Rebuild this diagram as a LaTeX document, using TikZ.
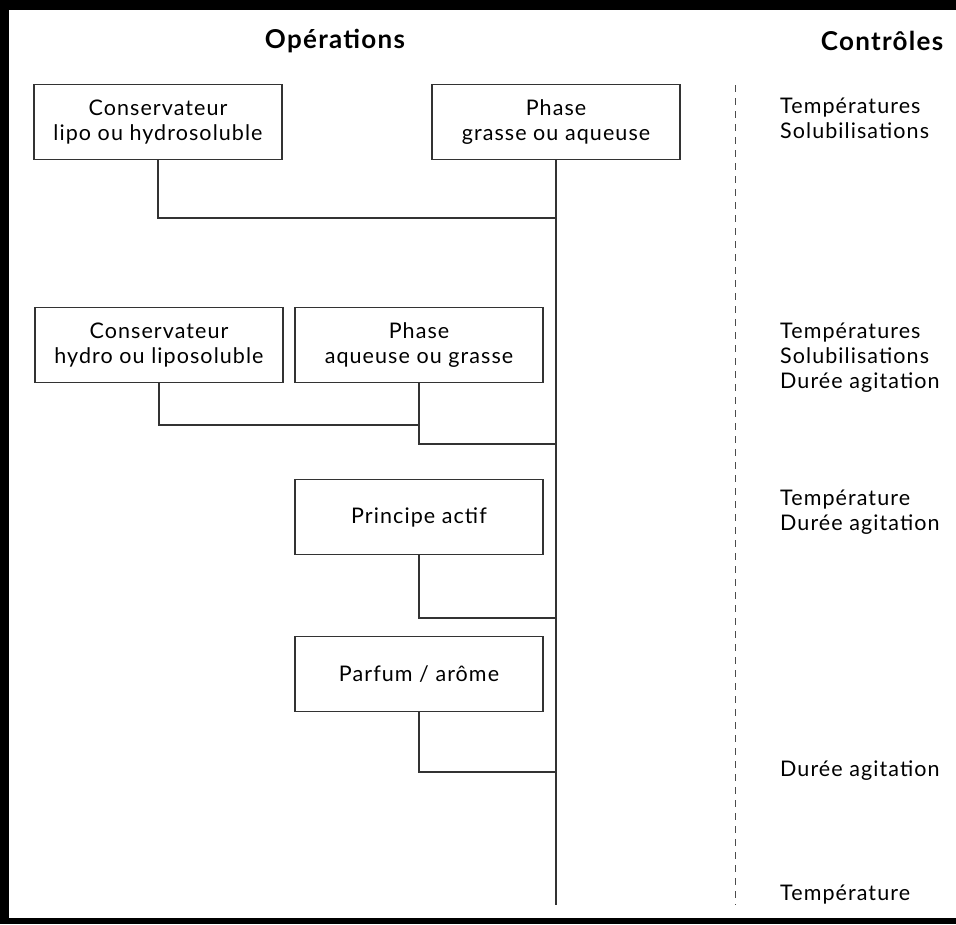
\documentclass[tikz,border=0pt]{standalone}
\usepackage{fontspec}
\setmainfont[LetterSpace=5]{Lato}
\usepackage{tikz}
\usetikzlibrary{positioning}

\begin{document}
\begin{tikzpicture}[
  x=1pt, y=-1pt,
  box/.style={draw=black!80, line width=1.4pt, align=center, minimum width=248pt, minimum height=75pt,
    inner sep=0pt, font=\fontsize{21.5}{25}\selectfont},
  title/.style={font=\fontsize{26}{28}\selectfont\bfseries},
  ctrl/.style={anchor=base west, align=left, inner sep=0pt, font=\fontsize{21.5}{25}\selectfont},
  link/.style={draw=black!80, line width=1.4pt}
]
% frame
\fill[black] (0,0) rectangle (956,924);
\fill[white] (9,10) rectangle (956,918);
\useasboundingbox (0,0) rectangle (956,924);

% headings
\node[title] (ops) at (335,41) {Opérations};
\node[title] (ctl) at (882,41) {Contrôles};

% operations
\node[box] (cons1) at (158,122) {Conservateur\\lipo ou hydrosoluble};
\node[box] (phase1) at (556,122) {Phase\\grasse ou aqueuse};
\node[box] (cons2) at (159,345) {Conservateur\\hydro ou liposoluble};
\node[box] (phase2) at (419,345) {Phase\\aqueuse ou grasse};
\node[box] (actif) at (419,517) {Principe actif};
\node[box] (parfum) at (419,674) {Parfum / arôme};

% trunk and joints
\coordinate (end) at (556,905);
\coordinate (j1) at (556,218);
\coordinate (j2) at (556,444);
\coordinate (j3) at (556,618);
\coordinate (j4) at (556,772);
\coordinate (k2) at (419,425);

\draw[link] (phase1.south) -- (end);
\draw[link] (cons1.south) |- (j1);
\draw[link] (cons2.south) |- (k2);
\draw[link] (phase2.south) |- (j2);
\draw[link] (actif.south) |- (j3);
\draw[link] (parfum.south) |- (j4);

% separator
\coordinate (sepa) at (735,85);
\coordinate (sepb) at (735,905);
\draw[black!70, line width=1pt, dash pattern=on 7pt off 6pt] (sepa) -- (sepb);

% controls (base = last line)
\node[ctrl] (c1) at (780,138) {Températures\\Solubilisations};
\node[ctrl] (c2) at (780,388) {Températures\\Solubilisations\\Durée agitation};
\node[ctrl] (c3) at (780,530) {Température\\Durée agitation};
\node[ctrl] (c4) at (780,776) {Durée agitation};
\node[ctrl] (c5) at (780,900) {Température};
\end{tikzpicture}
\end{document}
